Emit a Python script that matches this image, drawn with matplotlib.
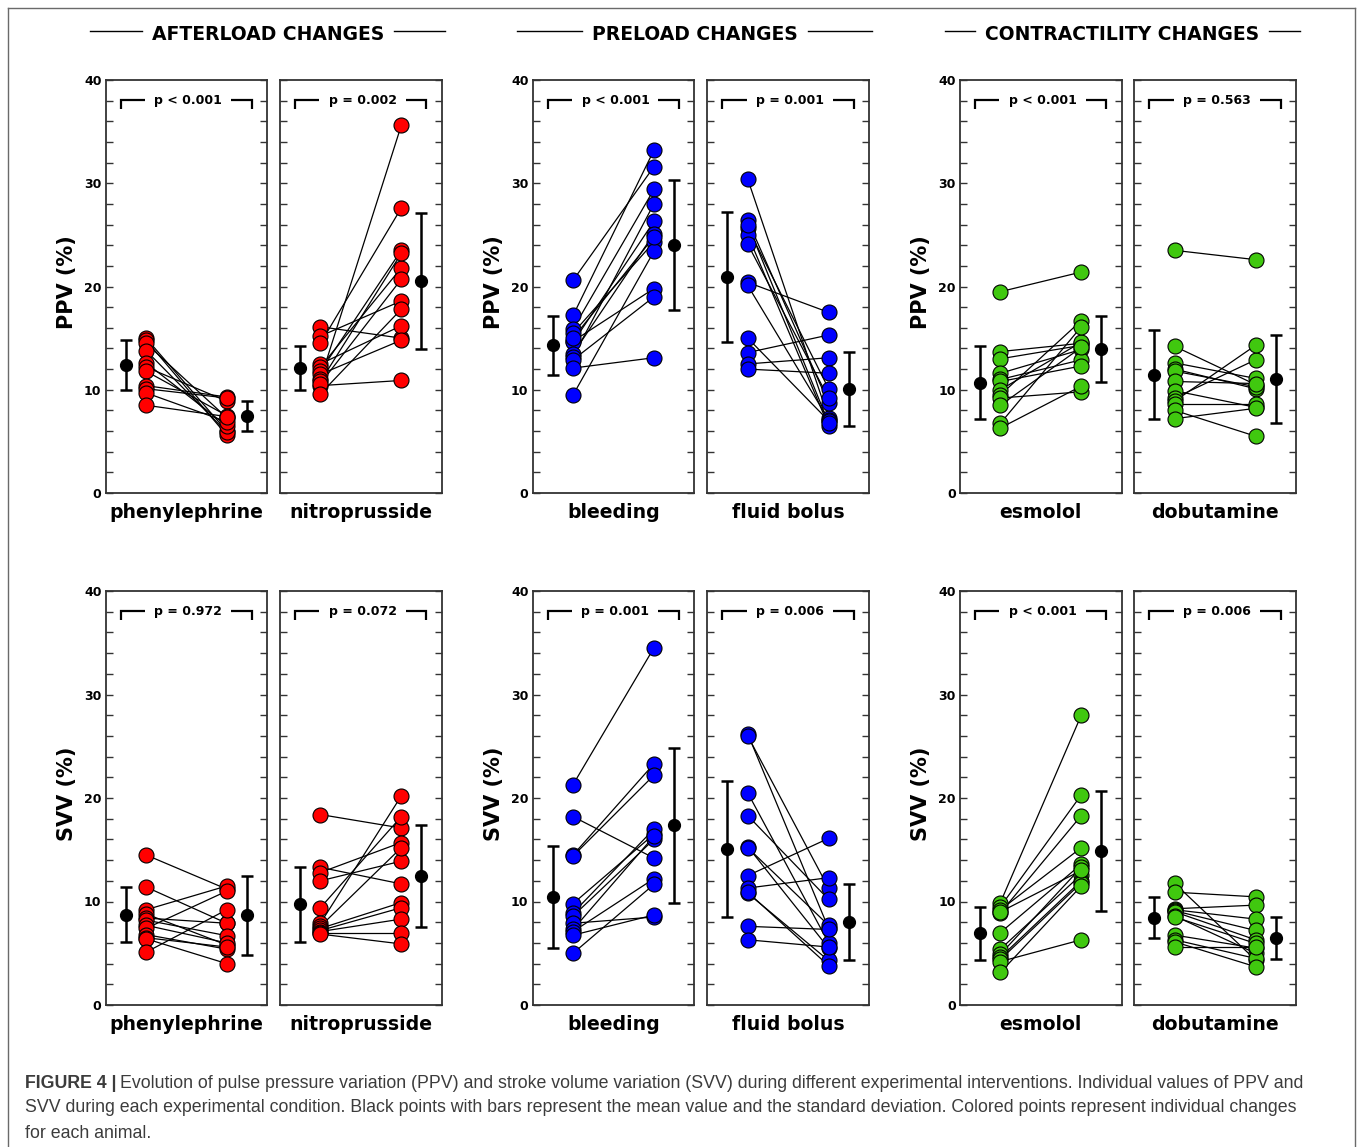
import matplotlib
matplotlib.use('Agg')
import matplotlib.pyplot as plt
from matplotlib.lines import Line2D

W, H = 1357, 1147
plt.rcParams['font.family'] = ['DejaVu Sans']

# ---------------- data ----------------
groups = ['AFTERLOAD CHANGES', 'PRELOAD CHANGES', 'CONTRACTILITY CHANGES']
interventions = ['phenylephrine', 'nitroprusside', 'bleeding', 'fluid bolus', 'esmolol', 'dobutamine']
row_labels = ['PPV (%)', 'SVV (%)']
group_colors = ['#FF0000', '#0000FF', '#40C80F']
ytick_values = list(range(0, 41, 2))
ytick_labels = [str(v) if v % 10 == 0 else '' for v in ytick_values]

ppv_p = ['p < 0.001', 'p = 0.002', 'p < 0.001', 'p = 0.001', 'p < 0.001', 'p = 0.563']
svv_p = ['p = 0.972', 'p = 0.072', 'p = 0.001', 'p = 0.006', 'p < 0.001', 'p = 0.006']

# PPV individual values (before, after)
ppv_phenylephrine_before = [15.0, 14.8, 14.5, 13.8, 12.6, 12.2, 11.8, 10.4, 10.1, 9.7, 8.5]
ppv_phenylephrine_after = [6.0, 5.6, 7.3, 5.9, 6.5, 8.9, 7.5, 9.3, 9.2, 6.9, 7.4]
ppv_nitroprusside_before = [16.1, 15.2, 14.5, 12.5, 12.2, 11.8, 11.5, 11.0, 10.8, 10.4, 10.6, 9.6]
ppv_nitroprusside_after = [15.0, 18.6, 27.6, 16.2, 21.8, 23.5, 14.8, 35.6, 23.2, 10.9, 20.7, 17.8]
ppv_bleeding_before = [20.6, 17.2, 15.9, 15.5, 14.7, 14.6, 13.5, 13.2, 12.9, 12.1, 9.5, 15.0]
ppv_bleeding_after = [31.6, 33.2, 29.4, 24.3, 19.8, 26.3, 25.1, 28.0, 19.0, 13.1, 23.4, 24.8]
ppv_fluid_before = [30.4, 26.4, 25.7, 25.0, 24.1, 20.4, 20.1, 15.0, 13.6, 12.5, 12.0, 26.0]
ppv_fluid_after = [7.3, 8.7, 10.1, 6.5, 9.2, 17.5, 7.1, 7.0, 15.3, 13.1, 11.6, 6.8]
ppv_esmolol_before = [19.5, 13.7, 13.0, 11.6, 11.0, 10.8, 10.0, 9.5, 9.2, 8.5, 6.75, 6.3]
ppv_esmolol_after = [21.4, 14.5, 14.3, 13.9, 12.9, 12.3, 14.6, 16.7, 9.8, 14.1, 16.1, 10.35]
ppv_dobutamine_before = [23.5, 14.2, 12.6, 12.0, 11.8, 10.8, 9.9, 9.2, 8.9, 8.65, 8.0, 7.2]
ppv_dobutamine_after = [22.6, 10.5, 11.1, 10.1, 10.3, 10.6, 8.3, 12.9, 14.3, 8.65, 5.5, 8.2]

# SVV individual values (before, after)
svv_phenylephrine_before = [14.5, 11.4, 9.2, 8.8, 8.4, 8.2, 7.7, 7.4, 6.8, 6.5, 6.4, 5.1]
svv_phenylephrine_after = [11.2, 7.9, 11.5, 5.8, 7.9, 6.7, 6.0, 11.0, 5.4, 5.6, 4.0, 9.2]
svv_nitroprusside_before = [18.4, 13.3, 12.8, 12.0, 9.4, 7.9, 7.6, 7.4, 7.2, 7.1, 7.0, 6.85]
svv_nitroprusside_after = [17.1, 11.7, 15.7, 13.9, 18.2, 20.2, 15.2, 9.9, 9.4, 8.3, 7.0, 5.9]
svv_bleeding_before = [21.3, 18.2, 14.5, 14.4, 9.8, 8.9, 8.6, 7.9, 7.3, 7.1, 6.75, 5.0]
svv_bleeding_after = [34.5, 14.2, 23.3, 22.2, 16.5, 17.0, 16.0, 8.5, 16.3, 12.2, 8.7, 11.65]
svv_fluid_before = [26.2, 26.0, 20.5, 18.3, 15.3, 15.2, 12.5, 11.3, 10.8, 10.9, 7.6, 6.3]
svv_fluid_after = [7.4, 11.3, 6.0, 10.2, 5.5, 7.7, 16.1, 12.3, 4.3, 3.8, 7.3, 5.6]
svv_esmolol_before = [9.9, 9.5, 9.2, 8.9, 7.0, 5.4, 4.9, 4.6, 4.4, 4.2, 3.15, 9.0]
svv_esmolol_after = [28.0, 20.3, 15.2, 18.3, 13.6, 12.6, 13.3, 12.0, 11.8, 6.3, 11.5, 13.0]
svv_dobutamine_before = [11.75, 10.9, 9.3, 9.2, 9.1, 9.0, 8.6, 8.5, 6.75, 6.3, 6.1, 5.6]
svv_dobutamine_after = [4.35, 10.45, 9.65, 8.3, 7.2, 6.3, 5.0, 5.95, 5.5, 4.5, 3.7, 5.6]

# Mean and SD (before, after) per intervention
ppv_mean_before = [12.4, 12.1, 14.3, 20.9, 10.7, 11.45]
ppv_sd_before = [2.45, 2.1, 2.85, 6.3, 3.55, 4.3]
ppv_mean_after = [7.45, 20.5, 24.05, 10.1, 13.95, 11.05]
ppv_sd_after = [1.45, 6.6, 6.3, 3.6, 3.2, 4.25]
svv_mean_before = [8.73, 9.73, 10.43, 15.05, 6.92, 8.45]
svv_sd_before = [2.68, 3.63, 4.96, 6.55, 2.58, 1.95]
svv_mean_after = [8.67, 12.45, 17.35, 8.0, 14.9, 6.45]
svv_sd_after = [3.83, 4.95, 7.45, 3.7, 5.8, 2.05]

caption_lines = [
    'Evolution of pulse pressure variation (PPV) and stroke volume variation (SVV) during different experimental interventions. Individual values of PPV and',
    'SVV during each experimental condition. Black points with bars represent the mean value and the standard deviation. Colored points represent individual changes',
    'for each animal.',
]

# --------------- tables built from the arrays ---------------
ppv_pairs = [
    (ppv_phenylephrine_before, ppv_phenylephrine_after),
    (ppv_nitroprusside_before, ppv_nitroprusside_after),
    (ppv_bleeding_before, ppv_bleeding_after),
    (ppv_fluid_before, ppv_fluid_after),
    (ppv_esmolol_before, ppv_esmolol_after),
    (ppv_dobutamine_before, ppv_dobutamine_after),
]
svv_pairs = [
    (svv_phenylephrine_before, svv_phenylephrine_after),
    (svv_nitroprusside_before, svv_nitroprusside_after),
    (svv_bleeding_before, svv_bleeding_after),
    (svv_fluid_before, svv_fluid_after),
    (svv_esmolol_before, svv_esmolol_after),
    (svv_dobutamine_before, svv_dobutamine_after),
]
rows = [
    (ppv_pairs, ppv_mean_before, ppv_sd_before, ppv_mean_after, ppv_sd_after, ppv_p),
    (svv_pairs, svv_mean_before, svv_sd_before, svv_mean_after, svv_sd_after, svv_p),
]

# --------------- layout (pixels) ---------------
panel_x = [(105.7, 267.0), (280.0, 441.7), (532.7, 694.3), (707.3, 869.0), (960.0, 1121.7), (1134.3, 1296.0)]
row_y = [(80.0, 493.0), (591.0, 1005.0)]
x_mean_l, x_before, x_after, x_mean_r = 0.124, 0.25, 0.75, 0.875
spine_col = '#333333'

fig = plt.figure(figsize=(W / 100, H / 100), dpi=100)
fig.patch.set_facecolor('white')

# outer frame
frame_col = '#6a6a6a'
fig.add_artist(Line2D([8 / W, 8 / W], [0, 1 - 8 / H], transform=fig.transFigure, color=frame_col, lw=1.0))
fig.add_artist(Line2D([8 / W, 1355 / W], [1 - 8 / H, 1 - 8 / H], transform=fig.transFigure, color=frame_col, lw=1.0))
fig.add_artist(Line2D([1355 / W, 1355 / W], [0, 1 - 8 / H], transform=fig.transFigure, color=frame_col, lw=1.0))

for r, (pairs, mb, sb, ma, sa, pvals) in enumerate(rows):
    y0, y1 = row_y[r]
    for i in range(6):
        x0, x1 = panel_x[i]
        ax = fig.add_axes([x0 / W, 1 - y1 / H, (x1 - x0) / W, (y1 - y0) / H])
        ax.set_xlim(0, 1)
        ax.set_ylim(0, 40)
        for s in ax.spines.values():
            s.set_color(spine_col)
            s.set_linewidth(1.3)
        ax.set_xticks([])
        ax.set_yticks(ytick_values)
        ax.tick_params(axis='y', direction='in', length=5, width=1.0, color=spine_col,
                       left=True, right=True, pad=3)
        if i % 2 == 0:
            ax.set_yticklabels(ytick_labels, fontsize=9, fontweight='bold')
        else:
            ax.set_yticklabels([])

        col = group_colors[i // 2]
        before, after = pairs[i]
        for b, a in zip(before, after):
            ax.plot([x_before, x_after], [b, a], color='black', lw=0.9, zorder=2)
        ax.plot([x_before] * len(before), before, 'o', ms=10.8, mfc=col, mec='black', mew=0.8,
                zorder=3, clip_on=False)
        ax.plot([x_after] * len(after), after, 'o', ms=10.8, mfc=col, mec='black', mew=0.8,
                zorder=3, clip_on=False)
        ax.errorbar([x_mean_l], [mb[i]], yerr=[sb[i]], fmt='o', color='black', ms=8.5,
                    elinewidth=1.8, capsize=4.5, capthick=1.8, zorder=4)
        ax.errorbar([x_mean_r], [ma[i]], yerr=[sa[i]], fmt='o', color='black', ms=8.5,
                    elinewidth=1.8, capsize=4.5, capthick=1.8, zorder=4)

        # p-value bracket
        ax.plot([0.093, 0.093, 0.244], [37.2, 38.05, 38.05], color='black', lw=1.6,
                solid_capstyle='butt', solid_joinstyle='miter')
        ax.plot([0.778, 0.905, 0.905], [38.05, 38.05, 37.2], color='black', lw=1.6,
                solid_capstyle='butt', solid_joinstyle='miter')
        ax.text(0.512, 38.05, pvals[i], ha='center', va='center', fontsize=9, fontweight='bold')

        ax.text(0.5, -0.048, interventions[i], transform=ax.transAxes, ha='center', va='center',
                fontsize=13.6, fontweight='bold')

        if i % 2 == 0:
            fig.text((x0 - 39) / W, 1 - ((y0 + y1) / 2 - 4) / H, row_labels[r], rotation=90,
                     ha='center', va='center', fontsize=15, fontweight='bold')

# group titles with flanking lines
fig.canvas.draw()
renderer = fig.canvas.get_renderer()
for g in range(3):
    cx = (panel_x[2 * g][0] + panel_x[2 * g + 1][1]) / 2 - 6
    t = fig.text(cx / W, 1 - 34 / H, groups[g], ha='center', va='center', fontsize=13.5,
                 fontweight='bold')
    bb = t.get_window_extent(renderer=renderer)
    half = bb.width / 2
    ly = 1 - 31 / H
    fig.add_artist(Line2D([(cx - 177.5) / W, (cx - half - 10) / W], [ly, ly],
                          transform=fig.transFigure, color='black', lw=1.0))
    fig.add_artist(Line2D([(cx + half + 10) / W, (cx + 177.5) / W], [ly, ly],
                          transform=fig.transFigure, color='black', lw=1.0))

# caption
cap_col = '#3c3c3c'
cap_font = 'Liberation Sans'
cap_size = 12.8
head = fig.text(25 / W, 1 - 1083 / H, 'FIGURE 4 |', ha='left', va='center', fontsize=cap_size,
                fontweight='bold', family=cap_font, color=cap_col)
hb = head.get_window_extent(renderer=renderer)
fig.text((25 + hb.width + 4) / W, 1 - 1083 / H, caption_lines[0], ha='left', va='center',
         fontsize=cap_size, family=cap_font, color=cap_col)
fig.text(25 / W, 1 - 1108 / H, caption_lines[1], ha='left', va='center', fontsize=cap_size,
         family=cap_font, color=cap_col)
fig.text(25 / W, 1 - 1133 / H, caption_lines[2], ha='left', va='center', fontsize=cap_size,
         family=cap_font, color=cap_col)

fig.savefig('out.png', dpi=100, facecolor='white')
